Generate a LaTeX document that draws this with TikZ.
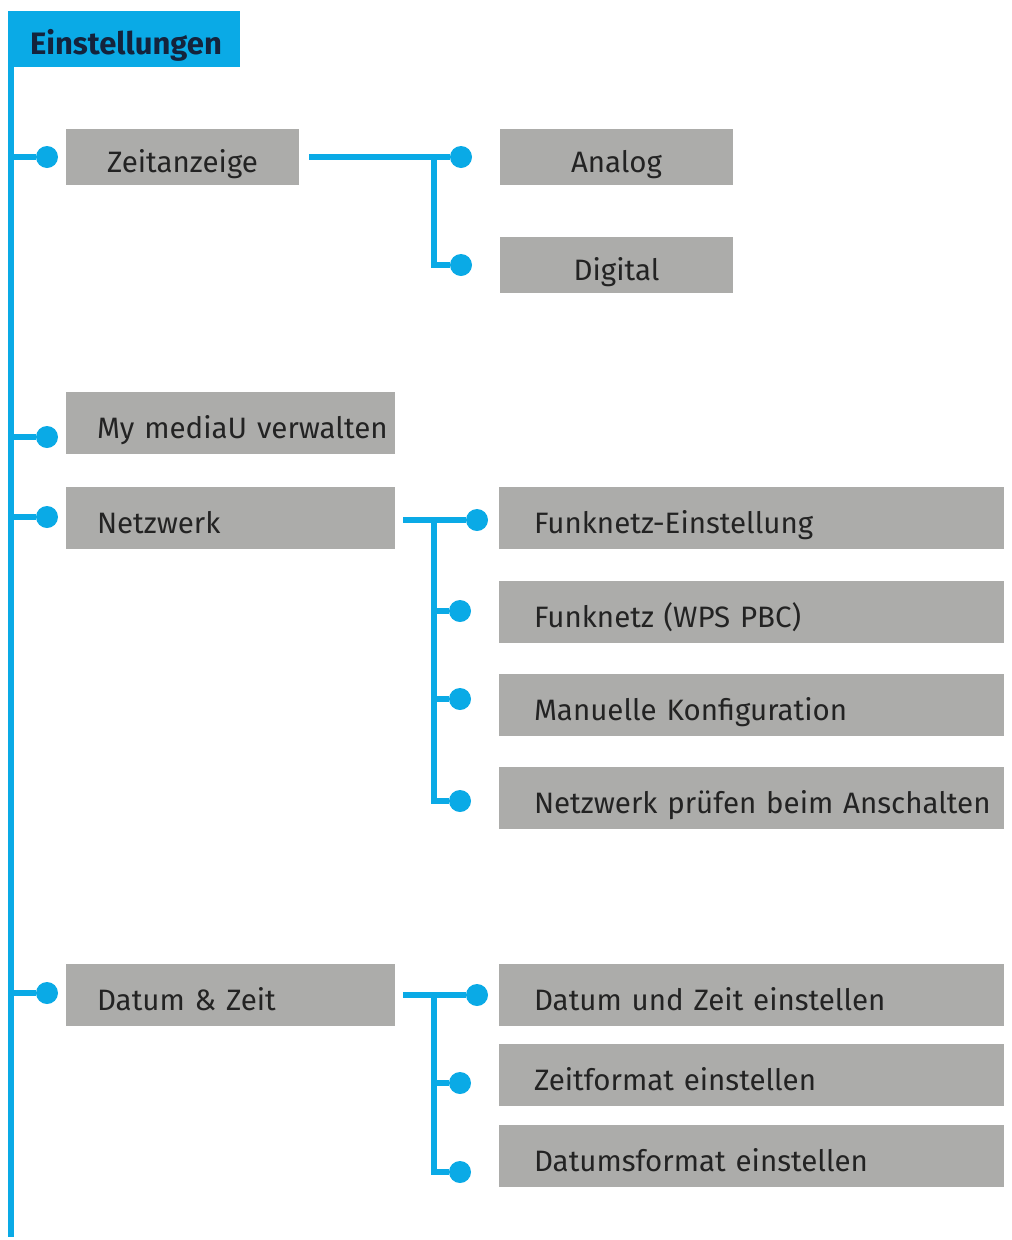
\documentclass[tikz,border=0pt]{standalone}
\usepackage{fontspec}
\setmainfont{Fira Sans}
\usepackage{tikz}
\usepackage{xcolor}
\definecolor{menublue}{RGB}{10,170,230}
\definecolor{menugray}{RGB}{172,172,170}
\definecolor{menutext}{RGB}{35,35,35}
\definecolor{headtext}{RGB}{20,35,60}

\begin{document}
\begin{tikzpicture}[x=1pt,y=-1pt,
	link/.style={draw=menublue,line width=6pt},
	dot/.style={circle,fill=menublue,inner sep=0pt,minimum size=22pt},
	smallbox/.style={fill=menugray,text=menutext,minimum width=233pt,minimum height=56pt,inner sep=0pt,text height=31pt,text depth=0pt,font=\fontsize{29.5}{32}\selectfont},
	leftbox/.style={fill=menugray,text=menutext,text width=329pt,inner sep=0pt,minimum height=62pt,text height=31pt,text depth=0pt,align=left,font=\fontsize{29.5}{32}\selectfont,execute at begin node={\hspace*{31pt}}},
	rightbox/.style={fill=menugray,text=menutext,text width=505pt,inner sep=0pt,minimum height=62pt,text height=31pt,text depth=0pt,align=left,font=\fontsize{29.5}{32}\selectfont,execute at begin node={\hspace*{35pt}}}]
	\useasboundingbox (0,0) rectangle (1012,1240);

	\node[fill=menublue,text=headtext,text width=188pt,inner xsep=22pt,inner ysep=0pt,minimum height=56pt,text height=30pt,text depth=0pt,align=left,font=\fontsize{31}{33}\selectfont\bfseries] (head) at (124,39) {Einstellungen};
	\coordinate (top) at (11,11);
	\coordinate (bot) at (11,1237);
	\draw[link] (top) -- (bot);

	% first level
	\node[smallbox] (zeit) at (182.5,157) {Zeitanzeige};
	\node[leftbox] (media) at (230.5,423) {My mediaU verwalten};
	\node[leftbox] (netz) at (230.5,517.5) {Netzwerk};
	\node[leftbox] (datum) at (230.5,995) {Datum \& Zeit};
	\node[dot] (dz) at (47,157) {};
	\node[dot] (dm) at (47,437) {};
	\node[dot] (dn) at (47,517) {};
	\node[dot] (dd) at (47,993) {};
	\foreach \d in {dz,dm,dn,dd}
		\draw[link] (top |- \d) -- (\d);

	% Zeitanzeige
	\node[smallbox] (analog) at (616.5,157) {Analog};
	\node[smallbox] (digital) at (616.5,265) {Digital};
	\node[dot] (da) at (461,157) {};
	\node[dot] (dg) at (461,265) {};
	\coordinate (zs) at (309,157);
	\draw[link] (zs) -- (da);
	\draw[link] (434,157) |- (dg);

	% Netzwerk
	\node[rightbox] (n1) at (751.5,517.5) {Funknetz-Einstellung};
	\node[rightbox] (n2) at (751.5,611.5) {Funknetz (WPS PBC)};
	\node[rightbox] (n3) at (751.5,704.5) {Manuelle Konfiguration};
	\node[rightbox] (n4) at (751.5,797.5) {Netzwerk prüfen beim Anschalten};
	\node[dot] (dn1) at (477,520) {};
	\node[dot] (dn2) at (460,611) {};
	\node[dot] (dn3) at (460,699) {};
	\node[dot] (dn4) at (460,801) {};
	\coordinate (ns) at (403,520);
	\draw[link] (ns) -- (dn1);
	\draw[link] (434,520) |- (dn4);
	\draw[link] (434,611) -- (dn2);
	\draw[link] (434,699) -- (dn3);

	% Datum & Zeit
	\node[rightbox] (t1) at (751.5,995) {Datum und Zeit einstellen};
	\node[rightbox] (t2) at (751.5,1074.5) {Zeitformat einstellen};
	\node[rightbox] (t3) at (751.5,1156) {Datumsformat einstellen};
	\node[dot] (dt1) at (477,995) {};
	\node[dot] (dt2) at (460,1083) {};
	\node[dot] (dt3) at (460,1172) {};
	\coordinate (ts) at (403,995);
	\draw[link] (ts) -- (dt1);
	\draw[link] (434,995) |- (dt3);
	\draw[link] (434,1083) -- (dt2);
\end{tikzpicture}
\end{document}
